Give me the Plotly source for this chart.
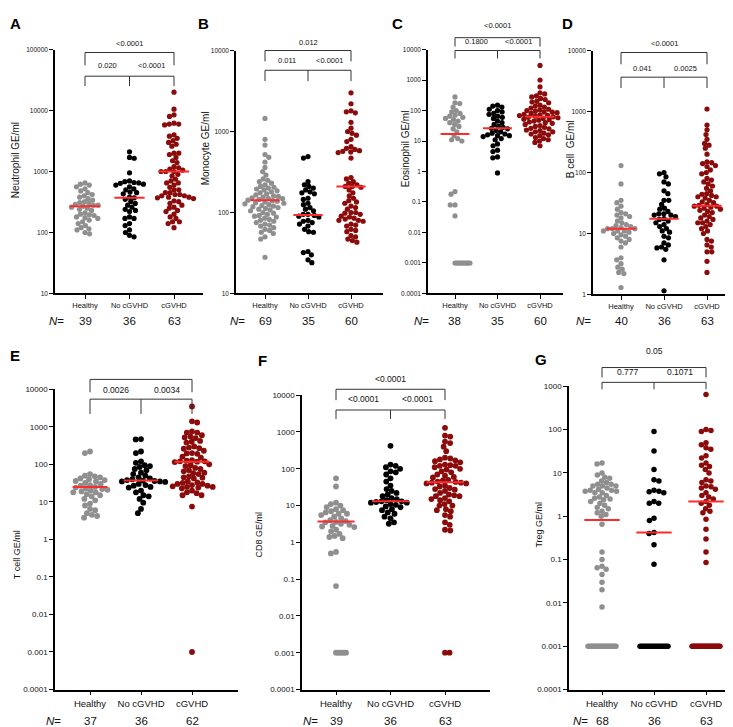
import math
import plotly.graph_objects as go

W, H = 733, 727
FONT = "Liberation Sans, Arial, sans-serif"

categories = ["Healthy", "No cGVHD", "cGVHD"]
group_colors = ["#8f8f8f", "#000000", "#8b0a0a"]
median_color = "#ff2a2a"

# ---------------- Panel A: Neutrophil ----------------
neutro_healthy = [650, 620, 600, 560, 520, 480, 450, 420, 400, 380, 360, 340, 320, 310, 300, 290, 280, 280, 270, 260,
                  250, 240, 230, 210, 200, 195, 190, 180, 175, 170, 160, 150, 140, 130, 120, 115, 110, 100, 95]
neutro_no = [2100, 1700, 1650, 950, 700, 680, 660, 650, 640, 620, 600, 560, 520, 500, 460, 450, 430, 380, 370, 350,
             320, 300, 280, 260, 240, 230, 220, 180, 170, 170, 140, 130, 110, 100, 90, 85]
neutro_c = [20000, 10500, 8500, 8000, 6200, 6000, 6000, 5800, 4000, 3800, 3500, 3200, 3000, 2800, 2600, 2000, 2000,
            1900, 1700, 1500, 1400, 1200, 1150, 1100, 1050, 1000, 1000, 1000, 900, 850, 750, 700, 650, 650, 600, 550,
            500, 500, 450, 450, 420, 420, 400, 400, 380, 380, 370, 360, 330, 320, 300, 280, 260, 250, 230, 220, 200,
            180, 170, 150, 150, 140, 120]
neutro_medians = [270, 370, 1000]
neutro_n = ["39", "36", "63"]
neutro_p = ["<0.0001", "0.020", "<0.0001"]
ticks_A = [10, 100, 1000, 10000, 100000]
ticklabels_A = ["10", "100", "1000", "10000", "100000"]

# ---------------- Panel B: Monocyte ----------------
mono_healthy = [1450, 800, 680, 520, 480, 420, 360, 320, 290, 260, 250, 240, 230, 220, 210, 205, 200, 195, 190, 185,
                180, 175, 170, 165, 160, 158, 155, 152, 150, 148, 145, 142, 140, 138, 135, 132, 130, 128, 125, 122,
                120, 118, 115, 112, 110, 108, 105, 100, 98, 95, 92, 90, 88, 85, 82, 80, 78, 75, 72, 70, 68, 65, 62,
                60, 57, 55, 50, 47, 28]
mono_no = [490, 470, 240, 220, 210, 200, 190, 180, 175, 170, 150, 145, 130, 125, 115, 110, 105, 95, 95, 92, 90, 88,
           80, 78, 75, 72, 68, 62, 58, 57, 33, 32, 30, 26, 24]
mono_c = [3000, 2200, 1800, 1750, 1700, 1300, 1100, 1000, 950, 900, 800, 750, 650, 620, 600, 580, 570, 560, 550, 470,
          270, 260, 240, 230, 220, 210, 210, 205, 190, 175, 160, 150, 140, 135, 130, 120, 115, 110, 100, 100, 98, 95,
          90, 88, 85, 83, 80, 80, 78, 72, 70, 68, 62, 60, 58, 52, 50, 47, 45, 43]
mono_medians = [142, 93, 210]
mono_n = ["69", "35", "60"]
mono_p = ["0.012", "0.011", "<0.0001"]
ticks_B = [10, 100, 1000, 10000]
ticklabels_B = ["10", "100", "1000", "10000"]

# ---------------- Panel C: Eosinophil ----------------
eos_healthy = [280, 180, 170, 130, 100, 90, 80, 70, 65, 60, 55, 50, 45, 40, 35, 30, 25, 20, 15, 12, 11, 10,
               0.22, 0.18, 0.08, 0.08, 0.035,
               0.001, 0.001, 0.001, 0.001, 0.001, 0.001, 0.001, 0.001, 0.001, 0.001, 0.001]
eos_no = [150, 140, 130, 110, 100, 90, 80, 75, 65, 60, 55, 45, 40, 35, 30, 28, 26, 25, 22, 20, 18, 17, 16, 15, 15,
          14, 12, 11, 8, 7, 5, 4.5, 3, 2.8, 0.9]
eos_c = [3000, 1000, 600, 380, 350, 300, 280, 250, 230, 200, 190, 180, 150, 140, 130, 120, 110, 105, 100, 95, 90, 88,
         85, 80, 75, 72, 70, 68, 65, 62, 60, 58, 55, 52, 50, 48, 45, 42, 40, 38, 35, 32, 30, 28, 26, 25, 23, 22, 20,
         20, 18, 17, 16, 15, 13, 12, 11, 10, 9, 7]
eos_medians = [17, 26, 62]
eos_n = ["38", "35", "60"]
eos_p = ["<0.0001", "0.1800", "<0.0001"]
ticks_wide = [0.0001, 0.001, 0.01, 0.1, 1, 10, 100, 1000, 10000]
ticklabels_wide = ["0.0001", "0.001", "0.01", "0.1", "1", "10", "100", "1000", "10000"]

# ---------------- Panel D: B cell ----------------
bcell_healthy = [130, 65, 35, 32, 28, 25, 22, 21, 20, 19, 18, 16, 15, 14, 13.5, 13, 12.5, 12, 12, 12, 11, 11, 11,
                 10.5, 10, 9.5, 9, 8.5, 8, 7.5, 7, 6, 4, 3.7, 3.2, 2.8, 2.6, 2.3, 2.2, 1.3]
bcell_no = [100, 95, 85, 70, 65, 50, 45, 35, 35, 30, 26, 25, 23, 21, 21, 20, 20, 19, 17.5, 17, 16, 15, 14, 13, 12,
            11, 10.5, 9, 8.5, 7, 6.5, 6, 5.8, 5.5, 3.7, 1.15]
bcell_c = [1100, 600, 500, 420, 350, 300, 280, 250, 200, 150, 145, 140, 130, 125, 110, 100, 95, 80, 75, 70, 65, 60,
           55, 50, 45, 44, 42, 40, 40, 38, 35, 33, 32, 30, 29, 28, 28, 27, 26, 25, 24, 23, 22, 20, 19, 18, 17, 16,
           15, 15, 14, 13, 12, 11, 10, 8, 7.5, 6.5, 6, 5, 5, 3.5, 2.3]
bcell_medians = [12, 17.5, 28.5]
bcell_n = ["40", "36", "63"]
bcell_p = ["<0.0001", "0.041", "0.0025"]
ticks_D = [1, 10, 100, 1000, 10000]
ticklabels_D = ["1", "10", "100", "1000", "10000"]

# ---------------- Panel E: T cell ----------------
tcell_healthy = [220, 200, 55, 50, 48, 45, 42, 40, 38, 36, 35, 32, 30, 28, 27, 25, 24, 23, 22, 21, 20, 19, 18, 18,
                 16, 15, 14, 12, 11, 9, 8, 6.5, 6, 5, 4.5, 4.2, 3.8]
tcell_no = [470, 460, 220, 200, 120, 110, 95, 90, 85, 75, 70, 60, 55, 50, 45, 42, 40, 38, 37, 36, 35, 35, 34, 30,
            28, 27, 25, 24, 20, 18, 15, 14, 12, 9.5, 6.5, 5]
tcell_c = [3500, 1400, 1300, 750, 700, 700, 600, 550, 520, 500, 420, 400, 380, 300, 280, 270, 260, 230, 200, 195,
           190, 160, 150, 130, 125, 120, 120, 118, 115, 100, 95, 90, 80, 75, 70, 65, 60, 58, 55, 48, 45, 44, 42, 35,
           33, 32, 30, 30, 28, 27, 26, 25, 25, 24, 23, 20, 18, 17, 15, 15, 7.5, 0.001]
tcell_medians = [25, 37, 117]
tcell_n = ["37", "36", "62"]
tcell_p = [None, "0.0026", "0.0034"]

# ---------------- Panel F: CD8 ----------------
cd8_healthy = [55, 33, 12, 11, 10, 9, 8, 7.5, 7, 6.5, 6, 6, 5.5, 5, 4.5, 4, 3.8, 3.6, 3.5, 3.2, 3, 2.8, 2.7, 2.6,
               2.2, 2, 1.7, 1.5, 1.4, 1.3, 0.55, 0.5, 0.065,
               0.001, 0.001, 0.001, 0.001, 0.001, 0.001]
cd8_no = [420, 130, 120, 110, 100, 85, 80, 70, 55, 45, 35, 28, 25, 22, 20, 18, 16, 15, 14, 13, 13, 12.5, 12, 12,
          11, 10.5, 9.5, 9, 8, 7.5, 6.5, 6, 5, 4.5, 3.5, 3.2]
cd8_c = [1300, 800, 750, 550, 500, 400, 300, 200, 190, 180, 170, 160, 150, 130, 125, 120, 120, 110, 100, 95, 85, 80,
         70, 65, 60, 58, 50, 48, 45, 44, 42, 42, 40, 40, 35, 33, 30, 28, 27, 25, 22, 20, 19, 18, 18, 16, 15, 14, 13,
         11, 10, 10, 8, 7.5, 7, 5.5, 5, 3.5, 3, 2.2, 2.1, 0.001, 0.001]
cd8_medians = [3.7, 13, 43]
cd8_n = ["39", "36", "63"]
cd8_p = ["<0.0001", "<0.0001", "<0.0001"]

# ---------------- Panel G: Treg ----------------
treg_healthy = [17, 16, 10, 9, 8, 7.5, 6.5, 6, 5.5, 5.5, 5, 5, 5, 4.5, 4.2, 4, 4, 3.8, 3.8, 3.5, 3.5, 3, 2.8, 2.6,
                2.5, 2.4, 2.2, 2, 1.8, 1.6, 1.5, 1.3, 1.2, 1.1, 1, 0.65, 0.15, 0.1, 0.07, 0.065, 0.06, 0.045, 0.03,
                0.02, 0.008,
                0.001, 0.001, 0.001, 0.001, 0.001, 0.001, 0.001, 0.001, 0.001, 0.001, 0.001, 0.001, 0.001, 0.001,
                0.001, 0.001, 0.001, 0.001, 0.001, 0.001, 0.001, 0.001, 0.001]
treg_no = [90, 32, 12, 7, 6.5, 4, 3.8, 3.7, 3.5, 2.2, 2, 2, 0.9, 0.8, 0.42, 0.4, 0.22, 0.078,
           0.001, 0.001, 0.001, 0.001, 0.001, 0.001, 0.001, 0.001, 0.001, 0.001, 0.001, 0.001, 0.001, 0.001,
           0.001, 0.001, 0.001, 0.001]
treg_c = [650, 100, 95, 90, 50, 45, 38, 35, 25, 22, 17, 15, 14, 12, 10, 7, 6.5, 6, 5, 4.8, 4.5, 4.2, 3.5, 3, 2.8,
          2.5, 2.2, 2, 1.8, 1.5, 1.3, 1.2, 0.85, 0.5, 0.3, 0.15, 0.085,
          0.001, 0.001, 0.001, 0.001, 0.001, 0.001, 0.001, 0.001, 0.001, 0.001, 0.001, 0.001, 0.001, 0.001,
          0.001, 0.001, 0.001, 0.001, 0.001, 0.001, 0.001, 0.001, 0.001, 0.001, 0.001, 0.001]
treg_medians = [0.82, 0.42, 2.2]
treg_n = ["68", "36", "63"]
treg_p = ["0.05", "0.777", "0.1071"]
ticks_G = [0.0001, 0.001, 0.01, 0.1, 1, 10, 100, 1000]
ticklabels_G = ["0.0001", "0.001", "0.01", "0.1", "1", "10", "100", "1000"]

# ---------------- layout geometry (pixels) ----------------
STYLE = {
    "top": dict(yt=6.5, xt=7.5, title=10, n=11.5, p=7.5),
    "bottom": dict(yt=8, xt=9.5, title=9, n=11.5, p=8.5),
}

panels = [
    dict(letter="A", title="Neutrophil GE/ml", data=[neutro_healthy, neutro_no, neutro_c], med=neutro_medians,
         n=neutro_n, p=neutro_p, ticks=ticks_A, labels=ticklabels_A, row="top",
         geo=dict(x0=47, x1=195, c0=77, c2=166, yt=38, yb=285, lo=1, hi=5, ms=5.2,
                  letter=(7, 12), title=(7, 150), nx=58, ny=313, br=(32, 41, 54, 65, 75, 54))),
    dict(letter="B", title="Monocyte GE/ml", data=[mono_healthy, mono_no, mono_c], med=mono_medians,
         n=mono_n, p=mono_p, ticks=ticks_B, labels=ticklabels_B, row="top",
         geo=dict(x0=228, x1=375, c0=257, c2=343, yt=39, yb=285, lo=1, hi=4, ms=5.2,
                  letter=(195, 12), title=(197, 138), nx=239, ny=313, br=(31, 39, 50, 59, 70, 49))),
    dict(letter="C", title="Eosinophil GE/ml", data=[eos_healthy, eos_no, eos_c], med=eos_medians,
         n=eos_n, p=eos_p, ticks=ticks_wide, labels=ticklabels_wide, row="top",
         geo=dict(x0=420, x1=555, c0=447, c2=532, yt=38, yb=285, lo=-4, hi=4, ms=5.2,
                  letter=(389, 12), title=(397, 139), nx=423, ny=313, br=(14, 26, 35, 39, 47, 30))),
    dict(letter="D", title="B cell\u00a0 GE/ml", data=[bcell_healthy, bcell_no, bcell_c], med=bcell_medians,
         n=bcell_n, p=bcell_p, ticks=ticks_D, labels=ticklabels_D, row="top",
         geo=dict(x0=585, x1=728, c0=613, c2=699, yt=39, yb=286, lo=0, hi=4, ms=5.2,
                  letter=(559, 12), title=(562, 139), nx=585, ny=313, br=(32, 41, 53, 66, 77, 57))),
    dict(letter="E", title="T cell GE/ml", data=[tcell_healthy, tcell_no, tcell_c], med=tcell_medians,
         n=tcell_n, p=tcell_p, ticks=ticks_wide, labels=ticklabels_wide, row="bottom",
         geo=dict(x0=47, x1=230, c0=82, c2=184, yt=382, yb=686, lo=-4, hi=4, ms=5.8,
                  letter=(7, 348), title=(9, 550), nx=55, ny=718, br=(360, 372, 385, 392, 407, 383))),
    dict(letter="F", title="CD8 GE/ml", data=[cd8_healthy, cd8_no, cd8_c], med=cd8_medians,
         n=cd8_n, p=cd8_p, ticks=ticks_wide, labels=ticklabels_wide, row="bottom",
         geo=dict(x0=294, x1=482, c0=328, c2=437, yt=388, yb=686, lo=-4, hi=4, ms=5.8,
                  letter=(254, 353), title=(251, 529), nx=312, ny=718, br=(372, 382, 393, 403, 412, 392))),
    dict(letter="G", title="Treg GE/ml", data=[treg_healthy, treg_no, treg_c], med=treg_medians,
         n=treg_n, p=treg_p, ticks=ticks_G, labels=ticklabels_G, row="bottom",
         geo=dict(x0=561, x1=728, c0=594, c2=698, yt=379, yb=686, lo=-4, hi=3, ms=5.5,
                  letter=(533, 352), title=(531, 519), nx=582, ny=718, br=(343, 360, 370, 375, 382, 365))),
]


def swarm(vals, ypix, d, floor_value=0.001):
    """Beeswarm offsets (pixels) computed from the values' pixel positions."""
    n = len(vals)
    offs = [0.0] * n
    floor_idx = [i for i, v in enumerate(vals) if v == floor_value]
    skip = set()
    if len(floor_idx) > 1:
        m = len(floor_idx)
        if m <= 12:
            step = max(1.5, min(0.85 * d, 10.0 / (m - 1)))
            for j, i in enumerate(floor_idx):
                offs[i] = j * step
        else:
            span = 28.0
            for j, i in enumerate(floor_idx):
                offs[i] = -span / 2 + span * j / (m - 1)
        skip = set(floor_idx)
    placed = []
    order = sorted((i for i in range(n) if i not in skip), key=lambda i: ypix(vals[i]))
    flip = 1
    for i in order:
        y = ypix(vals[i])
        near = [(xo, yo) for xo, yo in placed if abs(yo - y) < d]
        cands = [0.0]
        for xo, yo in near:
            dx = math.sqrt(max(d * d - (yo - y) ** 2, 0.0))
            cands += [xo + dx, xo - dx]
        cands.sort(key=lambda c: (round(abs(c), 6), -c * flip))
        for c in cands:
            if all((c - xo) ** 2 + (y - yo) ** 2 >= d * d - 1e-6 for xo, yo in near):
                offs[i] = c
                break
        flip = -flip
        placed.append((offs[i], y))
    return offs


fig = go.Figure()
annotations = []
shapes = []


def ann(x, y, text, size, **kw):
    d = dict(x=x / W, y=1 - y / H, xref="paper", yref="paper", text=text, showarrow=False,
             font=dict(size=size, family=FONT, color=kw.pop("color", "#111")),
             xanchor=kw.pop("xanchor", "center"), yanchor=kw.pop("yanchor", "middle"))
    d.update(kw)
    annotations.append(d)


def seg(x0, y0, x1, y1):
    shapes.append(dict(type="line", xref="paper", yref="paper", x0=x0 / W, y0=1 - y0 / H, x1=x1 / W,
                       y1=1 - y1 / H, line=dict(color="#333333", width=1)))


for k, p in enumerate(panels, start=1):
    g = p["geo"]
    st = STYLE[p["row"]]
    s = (g["c2"] - g["c0"]) / 2.0
    xmin = (g["x0"] - g["c0"]) / s
    xmax = 2 + (g["x1"] - g["c2"]) / s
    suf = "" if k == 1 else str(k)
    fig.update_layout(**{
        "xaxis" + suf: dict(domain=[g["x0"] / W, g["x1"] / W], range=[xmin, xmax], anchor="y" + suf,
                            tickmode="array", tickvals=[0, 1, 2], ticktext=categories, ticks="outside",
                            ticklen=4, tickwidth=1, tickcolor="black", showline=True, linecolor="black",
                            linewidth=1.5, showgrid=False, zeroline=False, fixedrange=True,
                            tickfont=dict(size=st["xt"], family=FONT, color="#111")),
        "yaxis" + suf: dict(domain=[1 - g["yb"] / H, 1 - g["yt"] / H], type="log", range=[g["lo"], g["hi"]],
                            anchor="x" + suf, tickmode="array", tickvals=p["ticks"], ticktext=p["labels"],
                            ticks="outside", ticklen=4, tickwidth=1, tickcolor="black", showline=True,
                            linecolor="black", linewidth=1.5, showgrid=False, zeroline=False, fixedrange=True,
                            tickfont=dict(size=st["yt"], family=FONT, color="#111")),
    })

    def ypix(v, g=g):
        return g["yb"] - (math.log10(v) - g["lo"]) / (g["hi"] - g["lo"]) * (g["yb"] - g["yt"])

    for i, vals in enumerate(p["data"]):
        offs = swarm(vals, ypix, g["ms"] * 0.92)
        fig.add_trace(go.Scatter(x=[i + o / s for o in offs], y=vals, mode="markers",
                                 marker=dict(size=g["ms"], color=group_colors[i], line=dict(width=0)),
                                 xaxis="x" + suf, yaxis="y" + suf, hoverinfo="skip", cliponaxis=False,
                                 showlegend=False))
    for i, m in enumerate(p["med"]):
        fig.add_trace(go.Scatter(x=[i - 0.34, i + 0.34], y=[m, m], mode="lines",
                                 line=dict(color=median_color, width=2), xaxis="x" + suf, yaxis="y" + suf,
                                 hoverinfo="skip", showlegend=False))

    # significance brackets
    cx = [g["c0"] + i * s for i in range(3)]
    ol, oh, od, ih, idr, il = g["br"]
    seg(cx[0], od, cx[0], oh)
    seg(cx[0], oh, cx[2], oh)
    seg(cx[2], oh, cx[2], od)
    seg(cx[0], idr, cx[0], ih)
    seg(cx[0], ih, cx[2], ih)
    seg(cx[1], ih, cx[1], idr)
    seg(cx[2], ih, cx[2], idr)
    if p["p"][0]:
        ann((cx[0] + cx[2]) / 2, ol, p["p"][0], st["p"])
    ann((cx[0] + cx[1]) / 2, il, p["p"][1], st["p"])
    ann((cx[1] + cx[2]) / 2, il, p["p"][2], st["p"])

    # panel letter, axis title, N row
    ann(g["letter"][0], g["letter"][1], "<b>" + p["letter"] + "</b>", 15, color="#000")
    ann(g["title"][0], g["title"][1], p["title"], st["title"], textangle=-90)
    ann(g["nx"], g["ny"], "<i>N</i>=", st["n"], xanchor="right")
    for i in range(3):
        ann(cx[i], g["ny"], p["n"][i], st["n"])

fig.update_layout(width=W, height=H, margin=dict(l=0, r=0, t=0, b=0), paper_bgcolor="white",
                  plot_bgcolor="white", showlegend=False, annotations=annotations, shapes=shapes,
                  font=dict(family=FONT))
fig.write_html("out.html")
